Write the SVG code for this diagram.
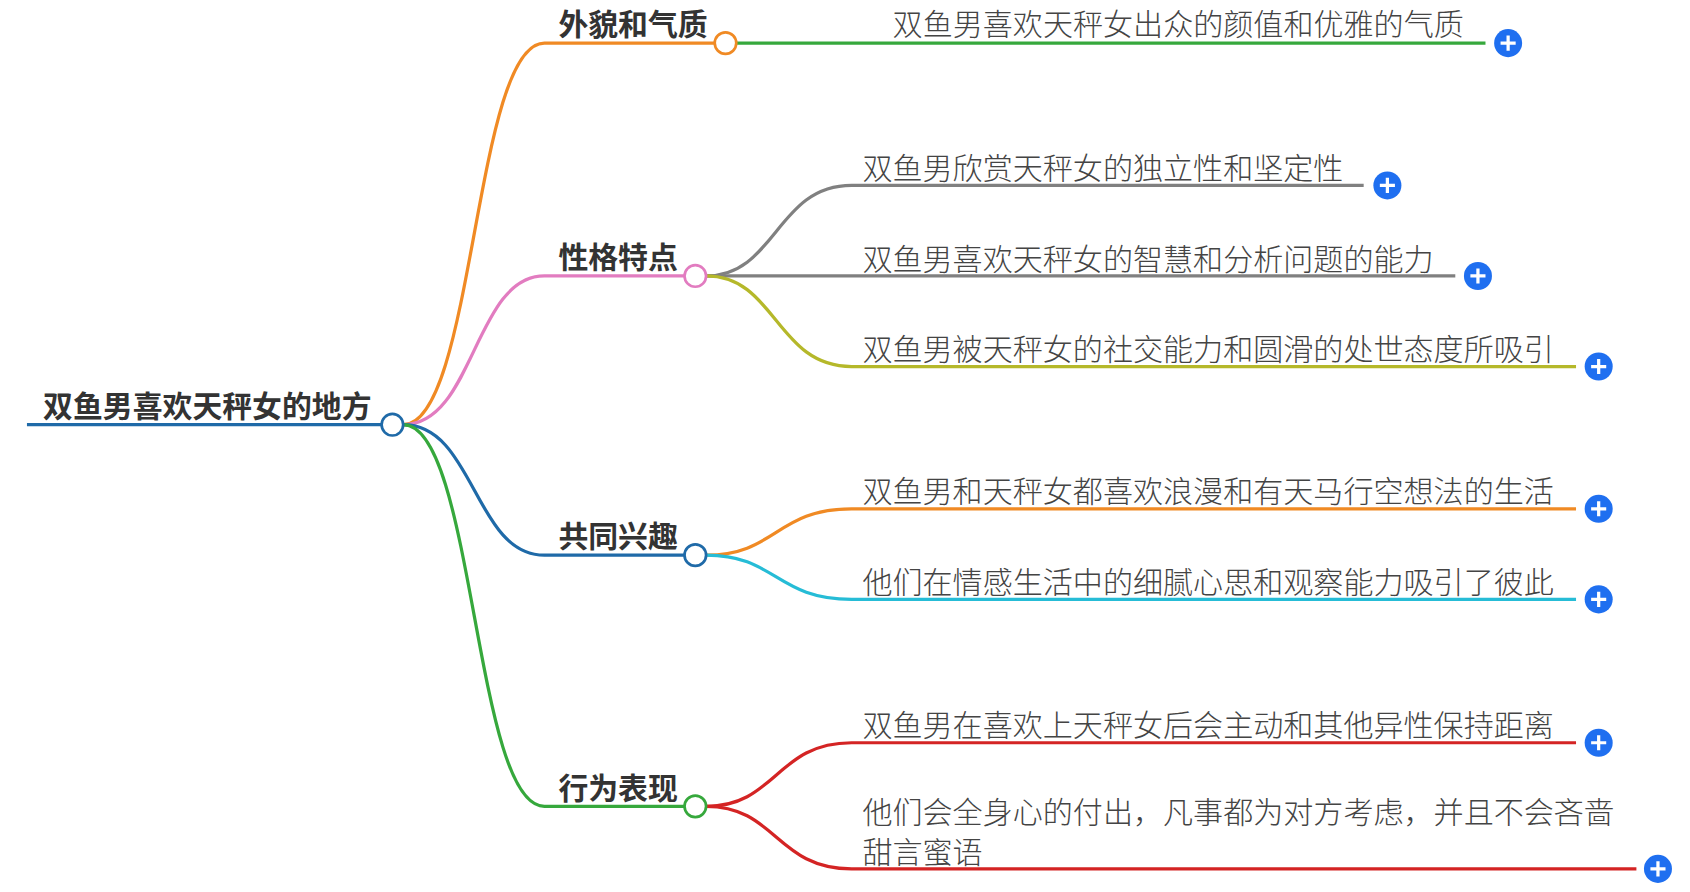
<svg xmlns="http://www.w3.org/2000/svg" width="1690" height="892" viewBox="0 0 1690 892">
<style>
.l{fill:none;stroke-width:3}
.t{font-family:"Noto Sans CJK SC",sans-serif;font-size:27.9px;fill:#444;font-weight:300}
.b{font-family:"Noto Sans CJK SC",sans-serif;font-size:27.7px;fill:#333;font-weight:700}
.c{fill:#fff;stroke-width:2.5}
</style>
<defs><g id="plus"><circle r="13" fill="#1f6ff0"/><path d="M-7 0H7M0 -7V7" stroke="#fff" stroke-width="3"/></g></defs>
<rect width="1690" height="892" fill="#fff"/>
<g transform="scale(1.078)">
<g id="connectors">
<path class="l" stroke="#1f6aa8" stroke-width="5" d="M25 394H355"/>
<path class="l" stroke="#f08a24" d="M374 394C440 394 440 40 505 40H663"/>
<path class="l" stroke="#e27cc0" d="M374 394C440 394 440 256 505 256H635"/>
<path class="l" stroke="#1f6aa8" d="M374 394C440 394 440 515 505 515H635"/>
<path class="l" stroke="#36a83c" d="M374 394C440 394 440 748 505 748H635"/>
<path class="l" stroke="#36a83c" d="M683 40H1378"/>
<path class="l" stroke="#808080" d="M655 256C720 256 720 172 790 172H1265"/>
<path class="l" stroke="#808080" d="M655 256H1350"/>
<path class="l" stroke="#b5b82a" d="M655 256C720 256 720 340 790 340H1462"/>
<path class="l" stroke="#f08a24" d="M655 515C720 515 720 472 790 472H1462"/>
<path class="l" stroke="#26bcd6" d="M655 515C720 515 720 556 790 556H1462"/>
<path class="l" stroke="#d42424" d="M655 748C720 748 720 689 790 689H1462"/>
<path class="l" stroke="#d42424" d="M655 748C720 748 720 806 790 806H1518"/>
</g>
<g id="root"><text class="b" x="40" y="387">双鱼男喜欢天秤女的地方</text><circle class="c" stroke="#1f6aa8" cx="364" cy="394" r="10"/></g>
<g id="n1"><text class="b" x="518" y="32">外貌和气质</text><circle class="c" stroke="#f08a24" cx="673" cy="40" r="10"/></g>
<g id="n2"><text class="b" x="518" y="249">性格特点</text><circle class="c" stroke="#e27cc0" cx="645" cy="256" r="10"/></g>
<g id="n3"><text class="b" x="518" y="507">共同兴趣</text><circle class="c" stroke="#1f6aa8" cx="645" cy="515" r="10"/></g>
<g id="n4"><text class="b" x="518" y="741">行为表现</text><circle class="c" stroke="#36a83c" cx="645" cy="748" r="10"/></g>
<g id="l1"><text class="t" x="828" y="32">双鱼男喜欢天秤女出众的颜值和优雅的气质</text><use href="#plus" x="1399" y="40"/></g>
<g id="l2"><text class="t" x="800" y="166">双鱼男欣赏天秤女的独立性和坚定性</text><use href="#plus" x="1287" y="172"/></g>
<g id="l3"><text class="t" x="800" y="250">双鱼男喜欢天秤女的智慧和分析问题的能力</text><use href="#plus" x="1371" y="256"/></g>
<g id="l4"><text class="t" x="800" y="334">双鱼男被天秤女的社交能力和圆滑的处世态度所吸引</text><use href="#plus" x="1483" y="340"/></g>
<g id="l5"><text class="t" x="800" y="466">双鱼男和天秤女都喜欢浪漫和有天马行空想法的生活</text><use href="#plus" x="1483" y="472"/></g>
<g id="l6"><text class="t" x="800" y="550">他们在情感生活中的细腻心思和观察能力吸引了彼此</text><use href="#plus" x="1483" y="556"/></g>
<g id="l7"><text class="t" x="800" y="683">双鱼男在喜欢上天秤女后会主动和其他异性保持距离</text><use href="#plus" x="1483" y="689"/></g>
<g id="l8"><text class="t" x="800" y="763">他们会全身心的付出，凡事都为对方考虑，并且不会吝啬</text><text class="t" x="800" y="801">甜言蜜语</text><use href="#plus" x="1538" y="806"/></g>
</g>
</svg>
